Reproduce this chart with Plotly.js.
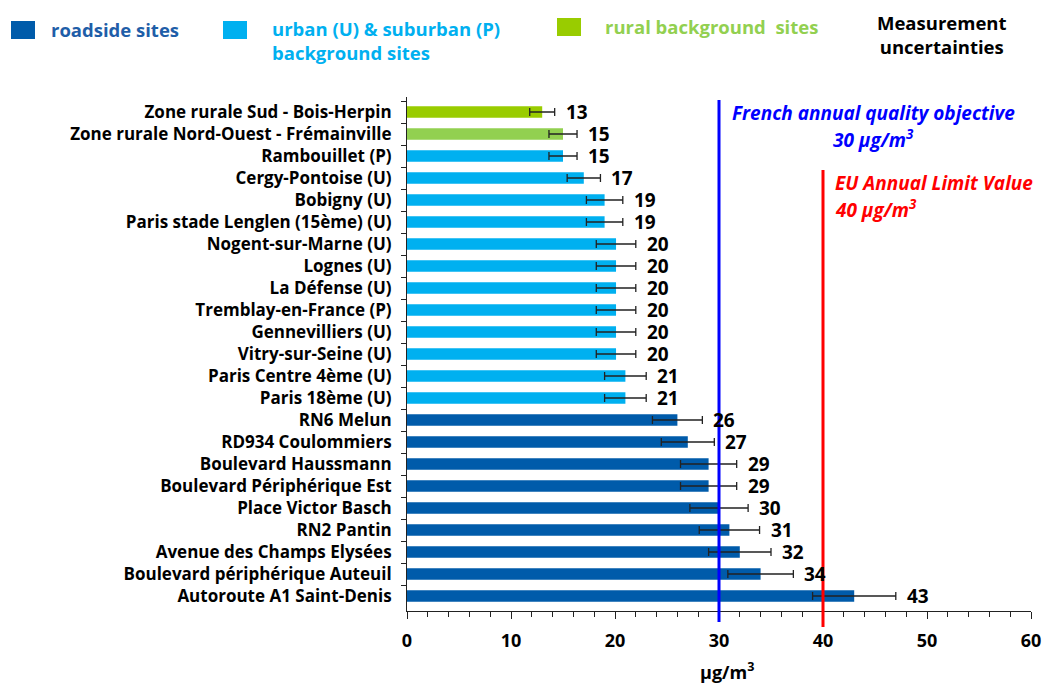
<!DOCTYPE html>
<html>
<head>
<meta charset="utf-8">
<script src="https://cdn.plot.ly/plotly-3.0.1.min.js"></script>
<style>html,body{margin:0;padding:0;background:#fff;}#chart{width:1043px;height:683px;}</style>
</head>
<body>
<div id="chart"></div>
<script>
// ---- data ----
var sites = [
  "Zone rurale Sud - Bois-Herpin",
  "Zone rurale Nord-Ouest - Frémainville",
  "Rambouillet (P)",
  "Cergy-Pontoise (U)",
  "Bobigny (U)",
  "Paris stade Lenglen (15ème) (U)",
  "Nogent-sur-Marne (U)",
  "Lognes (U)",
  "La Défense (U)",
  "Tremblay-en-France (P)",
  "Gennevilliers (U)",
  "Vitry-sur-Seine (U)",
  "Paris Centre 4ème (U)",
  "Paris 18ème (U)",
  "RN6 Melun",
  "RD934 Coulommiers",
  "Boulevard Haussmann",
  "Boulevard Périphérique Est",
  "Place Victor Basch",
  "RN2 Pantin",
  "Avenue des Champs Elysées",
  "Boulevard périphérique Auteuil",
  "Autoroute A1 Saint-Denis"
];
var siteTypes = ["rural-south","rural-northwest","background","background","background","background",
  "background","background","background","background","background","background","background","background",
  "roadside","roadside","roadside","roadside","roadside","roadside","roadside","roadside","roadside"];
var annualMeans = [13.0, 15.0, 15.0, 17.0, 19.0, 19.0, 20.1, 20.1, 20.1, 20.1, 20.1, 20.1, 21.0, 21.0,
  26.0, 27.0, 29.0, 29.0, 30.0, 31.0, 32.0, 34.0, 43.0];
var uncertainties = [1.2, 1.35, 1.35, 1.6, 1.75, 1.75, 1.9, 1.9, 1.9, 1.9, 1.9, 1.9, 2.0, 2.0,
  2.4, 2.55, 2.7, 2.7, 2.8, 2.9, 3.0, 3.15, 4.0];
var valueLabels = ["13","15","15","17","19","19","20","20","20","20","20","20","21","21",
  "26","27","29","29","30","31","32","34","43"];
var frenchObjective = 30;
var euLimit = 40;
var xTicks = [0, 10, 20, 30, 40, 50, 60];

// ---- styles ----
var typeColors = {
  "rural-south": "#99CC00",
  "rural-northwest": "#92D050",
  "background": "#00B0F0",
  "roadside": "#005BAA"
};
var FONT = "'Open Sans', Lato, sans-serif";

var barTrace = {
  type: "bar",
  orientation: "h",
  y: sites,
  x: annualMeans,
  marker: {color: siteTypes.map(function (t) { return typeColors[t]; })},
  error_x: {type: "data", array: uncertainties, visible: true, color: "#222", thickness: 1.3, width: 4},
  hoverinfo: "x+y",
  showlegend: false
};

function px(xp) { return (xp - 407) / 624; }
function py(yp) { return (611 - yp) / 514; }

var annotations = [];
for (var i = 0; i < sites.length; i++) {
  annotations.push({
    x: annualMeans[i] + uncertainties[i], y: sites[i], xref: "x", yref: "y",
    text: valueLabels[i], showarrow: false, xanchor: "left", yanchor: "middle", xshift: 9, yshift: 0,
    font: {family: FONT, size: 19, color: "#000", weight: 700}
  });
}
// reference line labels
var blueFont = {family: FONT, size: 19, color: "#0000FF", weight: 700, style: "italic"};
var redFont = {family: FONT, size: 19, color: "#FF0000", weight: 700, style: "italic"};
annotations.push({xref: "paper", yref: "paper", x: px(873), y: py(113), xanchor: "center", yanchor: "middle",
  showarrow: false, text: "French annual quality objective", font: blueFont});
annotations.push({xref: "paper", yref: "paper", x: px(873), y: py(139), xanchor: "center", yanchor: "middle",
  showarrow: false, text: "30 µg/m<sup>3</sup>", font: blueFont});
annotations.push({xref: "paper", yref: "paper", x: px(833), y: py(183), xanchor: "left", yanchor: "middle",
  showarrow: false, text: "EU Annual Limit Value", font: redFont});
annotations.push({xref: "paper", yref: "paper", x: px(833), y: py(209), xanchor: "left", yanchor: "middle",
  showarrow: false, text: "40 µg/m<sup>3</sup>", font: redFont});
// axis title
annotations.push({xref: "paper", yref: "paper", x: px(727), y: py(671), xanchor: "center", yanchor: "middle",
  showarrow: false, text: "µg/m<sup>3</sup>", font: {family: FONT, size: 18, weight: 700, color: "#000"}});

// legend (paper coords converted from pixel positions)
var legendFont = {family: FONT, size: 18.5, weight: 700};
annotations.push({xref: "paper", yref: "paper", x: px(49), y: py(29), xanchor: "left", yanchor: "middle", showarrow: false,
  text: "roadside sites", font: Object.assign({}, legendFont, {color: "#1F5EA8"})});
annotations.push({xref: "paper", yref: "paper", x: px(270), y: py(41), xanchor: "left", yanchor: "middle", showarrow: false,
  align: "left", text: "urban (U) &amp; suburban (P)<br>background sites", font: Object.assign({}, legendFont, {color: "#00B0F0"})});
annotations.push({xref: "paper", yref: "paper", x: px(603), y: py(26), xanchor: "left", yanchor: "middle", showarrow: false,
  text: "rural background  sites", font: Object.assign({}, legendFont, {color: "#92D050"})});
annotations.push({xref: "paper", yref: "paper", x: px(942), y: py(35), xanchor: "center", yanchor: "middle", showarrow: false,
  align: "center", text: "Measurement<br>uncertainties", font: Object.assign({}, legendFont, {color: "#000"})});

var shapes = [
  {type: "line", xref: "x", yref: "paper", x0: frenchObjective, x1: frenchObjective, y0: py(100), y1: py(622),
    line: {color: "#0000FF", width: 3}, layer: "above"},
  {type: "line", xref: "x", yref: "paper", x0: euLimit, x1: euLimit, y0: py(170), y1: py(627),
    line: {color: "#FF0000", width: 3}, layer: "above"},
  {type: "rect", xref: "paper", yref: "paper", x0: px(11), x1: px(35), y0: py(39), y1: py(21),
    fillcolor: typeColors["roadside"], line: {width: 0}},
  {type: "rect", xref: "paper", yref: "paper", x0: px(223), x1: px(247), y0: py(39), y1: py(21),
    fillcolor: typeColors["background"], line: {width: 0}},
  {type: "rect", xref: "paper", yref: "paper", x0: px(557), x1: px(581), y0: py(36), y1: py(18),
    fillcolor: typeColors["rural-south"], line: {width: 0}}
];

var layout = {
  width: 1043, height: 683,
  margin: {l: 407, r: 12, t: 97, b: 72},
  paper_bgcolor: "#fff", plot_bgcolor: "#fff",
  bargap: 0.47,
  showlegend: false,
  font: {family: FONT, color: "#000"},
  xaxis: {
    range: [0, 60], tickvals: xTicks, ticks: "outside", ticklen: 7, tickcolor: "#222",
    showline: true, linecolor: "#222", linewidth: 1, showgrid: false, zeroline: false,
    minor: {dtick: 2, ticks: "outside", ticklen: 5, tickcolor: "#222", showgrid: false},
    tickfont: {family: FONT, size: 18, weight: 700, color: "#000"},
    ticklabelstandoff: 6,
    fixedrange: true
  },
  yaxis: {
    type: "category", autorange: "reversed", ticks: "outside", ticklen: 5, tickcolor: "#222",
    tickson: "boundaries", showline: true, linecolor: "#222", linewidth: 1, showgrid: false,
    tickfont: {family: FONT, size: 17, weight: 700, color: "#000"},
    ticklabelstandoff: 11,
    fixedrange: true
  },
  annotations: annotations,
  shapes: shapes
};

Plotly.newPlot("chart", [barTrace], layout, {displayModeBar: false, staticPlot: true});
</script>
</body>
</html>
